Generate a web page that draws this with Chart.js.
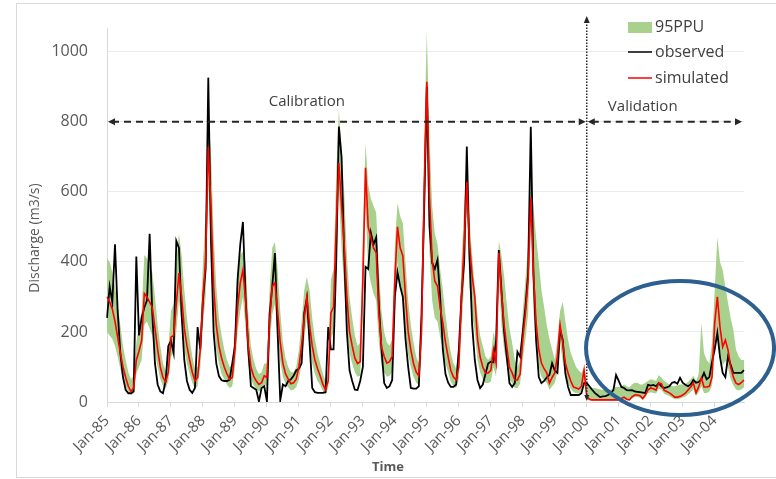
<!DOCTYPE html>
<html>
<head>
<meta charset="utf-8">
<script src="https://cdn.jsdelivr.net/npm/chart.js@4"></script>
<style>
  html, body { margin: 0; padding: 0; background: #fff; }
  #wrap { position: relative; width: 776px; height: 479px; }
  #frame { position: absolute; left: 16px; top: 3px; width: 770px; height: 473px;
           border: 1px solid #d9d9d9; border-right: none; }
  #chartDischarge { position: absolute; left: 0; top: 0; }
</style>
</head>
<body>
<div id="wrap">
  <div id="frame"></div>
  <canvas id="chartDischarge" width="776" height="479"></canvas>
</div>
<script>
// monthly series, Jan-85 .. Dec-04, one row per year
const years = ['85','86','87','88','89','90','91','92','93','94',
               '95','96','97','98','99','00','01','02','03','04'];
const months = ['Jan','Feb','Mar','Apr','May','Jun','Jul','Aug','Sep','Oct','Nov','Dec'];
const yTicks = [0, 200, 400, 600, 800, 1000];

const observed = [
  240, 330, 285, 450, 260, 140,  70,  35,  25,  25,  30, 415,
  190, 240, 270, 290, 480, 250, 110,  50,  30,  25,  60, 160,
  175, 140, 460, 440, 250, 120,  60,  35,  26,  40, 214, 150,
  290, 380, 926, 466, 200, 110,  74,  62,  60,  60,  63, 110,
  160, 350, 450, 514, 300, 150,  45,  40,  35,   2,  40,  45,
    2, 250, 330, 425, 200,   5,  50,  45,  60,  65,  75,  90,
   95, 110, 254, 297, 170,  40,  28,  26,  26,  26,  28, 214,
  150, 150, 400, 786, 700, 420, 200,  90,  60,  35,  34,  60,
  100, 386, 380, 483, 450, 470, 280, 150,  54,  40,  45,  63,
  300, 371, 330, 300, 180, 100,  40,  38,  38,  45, 250, 550,
  900, 500, 397, 380, 406, 300, 150,  80,  55,  43,  43,  50,
  149, 300, 400, 729, 420, 220, 120,  63,  40,  50,  80, 110,
  115, 113, 177, 434, 320, 200, 129,  54,  43,  54, 143, 129,
  200, 271, 369, 786, 369, 177,  71,  54,  60,  70,  77, 111,
   90,  83, 206, 177,  80,  43,  20,  20,  20,  20,  25,  54,
   54,  45,  35,  26,  20,  14,  16,  17,  20,  25,  34,  77,
   60,  43,  40,  34,  33,  34,  30,  29,  28,  27,  26,  49,
   47,  49,  45,  54,  45,  40,  42,  45,  55,  57,  52,  69,
   55,  49,  45,  50,  63,  55,  57,  65,  83,  65,  71, 114,
  150, 197, 129,  83,  71, 129, 106,  83,  83,  83,  83,  91
];

const simulated = [
  300, 285, 265, 230, 185, 140, 100,  70,  45,  30,  40, 120,
  145, 175, 310, 300, 285, 270, 210, 150, 100,  70,  57,  85,
  185, 190, 280, 368, 300, 210, 160, 120,  85,  60,  70, 150,
  300, 400, 729, 560, 330, 220, 160, 125, 100,  80,  65,  70,
  150, 270, 340, 377, 290, 160, 100,  74,  60,  50,  55,  75,
   70, 230, 330, 340, 260, 170, 110,  80,  65,  52,  55,  65,
  100, 160, 240, 300, 220, 160, 120,  95,  74,  50,  35,  60,
  254, 271, 500, 683, 560, 450, 300, 200, 160, 125, 110, 115,
  350, 669, 500, 470, 440, 426, 254, 157, 130, 111, 115, 130,
  350, 500, 440, 417, 300, 200, 149, 110,  86,  74, 200, 600,
  914, 586, 406, 345, 331, 270, 226, 170, 129,  90,  71,  63,
  100, 300, 450, 629, 454, 360, 300, 180, 129, 100,  83,  83,
   90, 149, 110, 426, 311, 220, 157, 100,  83,  63,  63,  80,
  180, 254, 349, 583, 369, 226, 150, 111,  95,  83,  54,  70,
   83, 130, 220, 169, 110,  83,  60,  43,  40,  37,  45,  91,
   15,   8,   6,   6,   6,   6,   6,   6,   6,   6,   6,   6,
    6,  10,  14,   8,   6,  15,  20,  20,  18,  10,  20,  35,
   40,  38,  34,  54,  52,  34,  30,  26,  20,  14,  14,  16,
   20,  25,  34,  43,  54,  26,  43,  69,  43,  43,  45,  71,
  226, 300, 214, 157, 177, 149, 100,  71,  54,  50,  55,  63
];

// 95PPU band
const ppuUpper = [
  410, 400, 370, 330, 280, 220, 160, 120,  85,  65,  75, 170,
  220, 260, 420, 410, 390, 370, 300, 220, 160, 110,  90, 150,
  260, 280, 400, 480, 420, 320, 240, 180, 130,  95, 100, 200,
  400, 540, 800, 720, 480, 330, 240, 190, 150, 120, 100, 110,
  210, 360, 420, 430, 400, 250, 160, 120,  95,  80,  85, 110,
  110, 320, 440, 457, 380, 260, 170, 125, 100,  85,  85, 100,
  150, 230, 320, 357, 320, 240, 180, 140, 110,  80,  60, 100,
  350, 380, 650, 834, 720, 600, 420, 300, 240, 190, 160, 170,
  480, 740, 620, 580, 560, 540, 380, 260, 200, 170, 160, 180,
  450, 569, 530, 510, 400, 290, 220, 170, 130, 110, 280, 750,
 1060, 750, 560, 480, 450, 380, 320, 250, 190, 140, 110,  95,
  160, 400, 560, 680, 520, 420, 330, 250, 190, 160, 130, 120,
  130, 200, 170, 460, 420, 360, 280, 210, 170, 120, 100, 120,
  260, 350, 450, 650, 560, 470, 400, 320, 271, 220, 180, 150,
  120, 180, 260, 286, 230, 177, 140, 120, 100,  90,  83, 100,
   60,  45,  40,  40,  38,  36,  35,  35,  35,  35,  40,  43,
   43,  45,  50,  45,  42,  50,  55,  55,  50,  50,  55,  60,
   65,  63,  60,  77,  70,  60,  55,  50,  45,  45,  48,  50,
   50,  52,  57,  65,  75,  60,  80, 226, 140, 120, 110, 170,
  320, 471, 400, 377, 330, 283, 240, 206, 150, 130, 120, 120
];

const ppuLower = [
  200, 190, 180, 160, 130,  95,  65,  45,  30,  20,  25,  80,
  100, 120, 220, 230, 210, 190, 140, 100,  65,  45,  38,  60,
  130, 140, 200, 290, 230, 150, 110,  80,  55,  38,  45, 100,
  220, 300, 620, 430, 240, 150, 110,  80,  65,  50,  40,  45,
  100, 200, 260, 300, 210, 110,  65,  48,  38,  30,  35,  50,
   45, 160, 250, 280, 190, 115,  72,  52,  42,  33,  35,  42,
   65, 110, 180, 240, 160, 110,  80,  60,  48,  32,  22,  40,
  180, 200, 380, 600, 440, 330, 210, 140, 110,  85,  72,  75,
  250, 560, 380, 340, 310, 290, 170, 105,  85,  72,  75,  85,
  250, 400, 330, 310, 210, 135, 100,  72,  56,  48, 130, 450,
  780, 430, 290, 240, 230, 185, 150, 110,  85,  58,  45,  40,
   65, 210, 340, 540, 330, 250, 200, 120,  85,  65,  54,  54,
   58, 100,  72, 360, 220, 150, 105,  65,  54,  40,  40,  52,
  120, 180, 250, 500, 260, 155, 100,  72,  62,  54,  35,  45,
   54,  85, 170, 115,  72,  54,  38,  28,  26,  24,  29,  60,
    8,   4,   3,   3,   3,   3,   3,   3,   3,   3,   3,   3,
    3,   5,   8,   5,   4,  10,  14,  14,  12,   6,  14,  25,
   28,  26,  24,  38,  36,  24,  20,  17,  12,   8,   8,  10,
   13,  16,  22,  28,  36,  17,  28,  45,  26,  26,  30,  48,
  150, 200, 145, 105, 118,  98,  65,  48,  36,  33,  36,  42
];

const labels = years.flatMap(yy => months.map(m => m + '-' + yy));

const FONT = '"Open Sans", "DejaVu Sans", sans-serif';
const TXT = '#595959';
const GREEN = '#a9d18e';

function arrowHead(ctx, x, y, dx, dy, len, half) {
  // tip at (x,y), pointing along (dx,dy)
  const px = -dy, py = dx;
  ctx.beginPath();
  ctx.moveTo(x, y);
  ctx.lineTo(x - dx * len + px * half, y - dy * len + py * half);
  ctx.lineTo(x - dx * len - px * half, y - dy * len - py * half);
  ctx.closePath();
  ctx.fill();
}

const annotations = {
  id: 'annotations',
  afterDatasetsDraw(chart) {
    const { ctx, chartArea } = chart;
    const x = chart.scales.x, y = chart.scales.y;
    const yArrow = y.getPixelForValue(800);
    const xSplit = x.getPixelForValue(180);
    ctx.save();
    ctx.strokeStyle = '#262626';
    ctx.fillStyle = '#262626';

    // calibration / validation arrows
    ctx.lineWidth = 1.8;
    ctx.setLineDash([7, 5]);
    ctx.beginPath();
    ctx.moveTo(chartArea.left + 5, yArrow);
    ctx.lineTo(xSplit - 5, yArrow);
    ctx.moveTo(xSplit + 5, yArrow);
    ctx.lineTo(chartArea.right - 6, yArrow);
    ctx.stroke();
    ctx.setLineDash([]);
    arrowHead(ctx, chartArea.left + 1, yArrow, -1, 0, 7, 3.5);
    arrowHead(ctx, xSplit - 1, yArrow, 1, 0, 7, 3.5);
    arrowHead(ctx, xSplit + 1, yArrow, -1, 0, 7, 3.5);
    arrowHead(ctx, chartArea.right - 2, yArrow, 1, 0, 7, 3.5);

    // dotted split line
    ctx.lineWidth = 1.5;
    ctx.setLineDash([1.5, 1.5]);
    ctx.beginPath();
    ctx.moveTo(xSplit, chartArea.bottom - 4);
    ctx.lineTo(xSplit, 22);
    ctx.stroke();
    ctx.setLineDash([]);
    arrowHead(ctx, xSplit, 16, 0, -1, 7, 3);
    arrowHead(ctx, xSplit, chartArea.bottom - 1, 0, 1, 6, 2.5);

    ctx.font = '15px ' + FONT;
    ctx.fillStyle = '#404040';
    ctx.textAlign = 'center';
    ctx.textBaseline = 'middle';
    ctx.fillText('Calibration', x.getPixelForValue(75), y.getPixelForValue(857));
    ctx.fillText('Validation', x.getPixelForValue(201), y.getPixelForValue(843));
    ctx.restore();
  },
  afterDraw(chart) {
    const { ctx } = chart;
    const x = chart.scales.x, y = chart.scales.y;
    ctx.save();

    // ellipse around the validation period
    ctx.strokeStyle = '#2d5f8f';
    ctx.lineWidth = 4;
    ctx.beginPath();
    ctx.ellipse(x.getPixelForValue(215), y.getPixelForValue(154), 94, 67, 0, 0, Math.PI * 2);
    ctx.stroke();

    // legend
    const lx = 628, items = [
      { label: '95PPU', type: 'box', color: GREEN, y: 27 },
      { label: 'observed', type: 'line', color: '#000000', y: 52 },
      { label: 'simulated', type: 'line', color: '#ff0000', y: 78 }
    ];
    ctx.font = '16px ' + FONT;
    ctx.textAlign = 'left';
    ctx.textBaseline = 'middle';
    items.forEach(it => {
      if (it.type === 'box') {
        ctx.fillStyle = it.color;
        ctx.fillRect(lx, it.y - 5, 24, 11);
      } else {
        ctx.strokeStyle = it.color;
        ctx.lineWidth = 1.5;
        ctx.beginPath();
        ctx.moveTo(lx, it.y);
        ctx.lineTo(lx + 24, it.y);
        ctx.stroke();
      }
      ctx.fillStyle = '#404040';
      ctx.fillText(it.label, lx + 27, it.y);
    });

    // axis titles
    ctx.fillStyle = TXT;
    ctx.font = 'bold 13px ' + FONT;
    ctx.textAlign = 'center';
    ctx.fillText('Time', 388, 467);
    ctx.translate(35, 238);
    ctx.rotate(-Math.PI / 2);
    ctx.font = '14px ' + FONT;
    ctx.fillText('Discharge (m3/s)', 0, 0);
    ctx.restore();
  }
};

new Chart(document.getElementById('chartDischarge'), {
  type: 'line',
  data: {
    labels: labels,
    datasets: [
      { label: 'simulated', data: simulated, borderColor: '#ff0000', borderWidth: 1.6,
        pointRadius: 0, tension: 0, fill: false, order: 0 },
      { label: 'observed', data: observed, borderColor: '#000000', borderWidth: 1.8,
        pointRadius: 0, tension: 0, fill: false, order: 1 },
      { label: '95PPU', data: ppuUpper, borderWidth: 0, borderColor: GREEN,
        backgroundColor: GREEN, pointRadius: 0, tension: 0, fill: '+1', order: 2 },
      { label: '95PPU lower', data: ppuLower, borderWidth: 0, borderColor: GREEN,
        pointRadius: 0, tension: 0, fill: false, order: 3 }
    ]
  },
  options: {
    responsive: false,
    animation: false,
    events: [],
    layout: { padding: { left: 0, right: 32, top: 11, bottom: 0 } },
    plugins: { legend: { display: false }, tooltip: { enabled: false } },
    scales: {
      x: {
        type: 'category',
        afterFit: (s) => { s.height = 77; },
        border: { color: '#d9d9d9' },
        grid: {
          drawOnChartArea: false,
          tickLength: 5,
          color: (c) => (c.index % 12 === 0 ? '#d9d9d9' : 'rgba(0,0,0,0)')
        },
        ticks: {
          autoSkip: false,
          minRotation: 45,
          maxRotation: 45,
          padding: 5,
          color: TXT,
          font: { family: FONT, size: 15 },
          callback: function (v, i) {
            return i % 12 === 0 ? this.getLabelForValue(v) : '';
          }
        }
      },
      y: {
        min: 0,
        max: 1066,
        afterFit: (s) => { s.width = 107; },
        afterBuildTicks: (s) => { s.ticks = yTicks.map(v => ({ value: v })); },
        border: { color: '#d9d9d9' },
        grid: { color: '#ebebeb', drawTicks: false },
        ticks: {
          includeBounds: false,
          padding: 19,
          color: TXT,
          font: { family: FONT, size: 16 },
          callback: (v) => String(v)
        }
      }
    }
  },
  plugins: [annotations]
});
</script>
</body>
</html>
